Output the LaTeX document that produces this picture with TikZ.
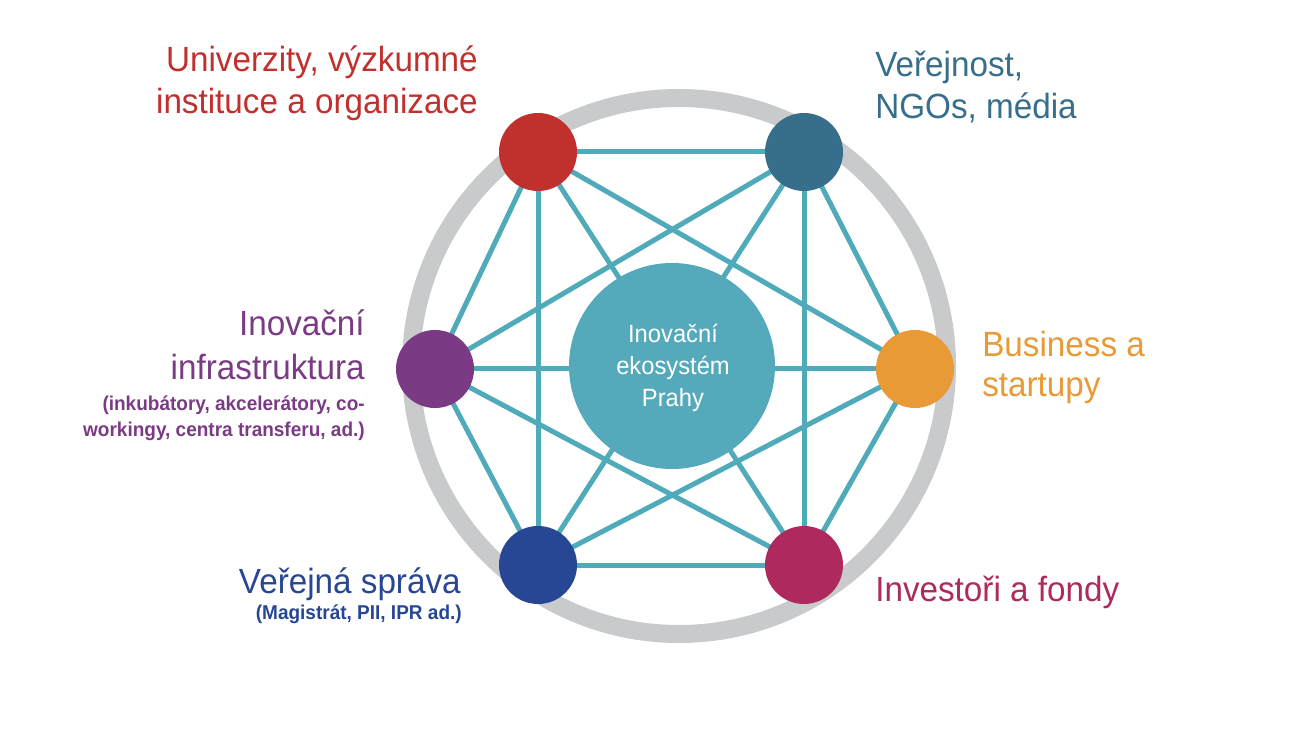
\documentclass[tikz,border=0pt]{standalone}
\usepackage{fontspec}
\setmainfont{Liberation Sans}[FakeStretch=0.95]
\definecolor{cred}{HTML}{C0312E}
\definecolor{cteal}{HTML}{366E8C}
\definecolor{cpurple}{HTML}{7A3B84}
\definecolor{corange}{HTML}{E89A36}
\definecolor{cblue}{HTML}{274694}
\definecolor{cmag}{HTML}{AE2A5E}
\definecolor{ccore}{HTML}{54A9BA}
\definecolor{clink}{HTML}{4FAABA}
\definecolor{cring}{HTML}{C9CACC}
\pgfdeclarelayer{ringlayer}
\pgfdeclarelayer{edgelayer}
\pgfsetlayers{ringlayer,edgelayer,main}
\begin{document}
\begin{tikzpicture}[x=0.75pt,y=-0.75pt,
  hub/.style={circle, inner sep=0pt, minimum size=58.5pt},
  core/.style={circle, inner sep=0pt, minimum size=154.5pt, fill=ccore},
  big/.style={font=\fontsize{26.25pt}{30pt}\selectfont, inner sep=0pt},
  small/.style={font=\bfseries\fontsize{15pt}{18pt}\selectfont, inner sep=0pt},
  coretext/.style={font=\fontsize{18.75pt}{22pt}\selectfont, inner sep=0pt, text=white, anchor=base},
  link/.style={line width=3.75pt, draw=clink},
  ringstyle/.style={line width=13.5pt, draw=cring}]
\useasboundingbox (0,0) rectangle (1290,734);

% hubs
\node[hub, fill=cred] (r) at (538,152) {};
\node[hub, fill=cteal] (t) at (804,152) {};
\node[hub, fill=cpurple] (p) at (435,369) {};
\node[hub, fill=corange] (o) at (915,369) {};
\node[hub, fill=cblue] (b) at (538,565) {};
\node[hub, fill=cmag] (m) at (804,565) {};

% ring
\coordinate (rc) at (679,366);
\begin{pgfonlayer}{ringlayer}
\draw[ringstyle] (rc) circle[radius=268];
\end{pgfonlayer}

% links (complete graph)
\begin{pgfonlayer}{edgelayer}
\foreach \a/\b in {r/t,r/p,r/o,r/b,r/m,t/p,t/o,t/b,t/m,p/o,p/b,p/m,o/b,o/m,b/m}
  \draw[link] (\a.center) -- (\b.center);
\end{pgfonlayer}

% core
\node[core] (c) at (672,366) {};
\node[coretext] (c1) at (673,343) {Inovační};
\node[coretext] (c2) at (673,375) {ekosystém};
\node[coretext] (c3) at (673,407) {Prahy};

% labels
\node[big, text=cred, anchor=base east] (uni1) at (478,72) {Univerzity, výzkumné};
\node[big, text=cred, anchor=base east] (uni2) at (478,114) {instituce a organizace};
\node[big, text=cteal, anchor=base west] (ver1) at (875,77) {Veřejnost,};
\node[big, text=cteal, anchor=base west] (ver2) at (875,119) {NGOs, média};
\node[big, text=cpurple, anchor=base east] (ino1) at (365,336) {Inovační};
\node[big, text=cpurple, anchor=base east] (ino2) at (365,380) {infrastruktura};
\node[small, text=cpurple, anchor=base east] (ino3) at (365,411) {(inkubátory, akcelerátory, co-};
\node[small, text=cpurple, anchor=base east] (ino4) at (365,437) {workingy, centra transferu, ad.)};
\node[big, text=corange, anchor=base west] (bus1) at (982,357) {Business a};
\node[big, text=corange, anchor=base west] (bus2) at (982,397) {startupy};
\node[big, text=cblue, anchor=base east] (spr1) at (461,593) {Veřejná správa};
\node[small, text=cblue, anchor=base east] (spr2) at (462,619) {(Magistrát, PII, IPR ad.)};
\node[big, text=cmag, anchor=base west] (inv) at (875,601) {Investoři a fondy};
\end{tikzpicture}
\end{document}
